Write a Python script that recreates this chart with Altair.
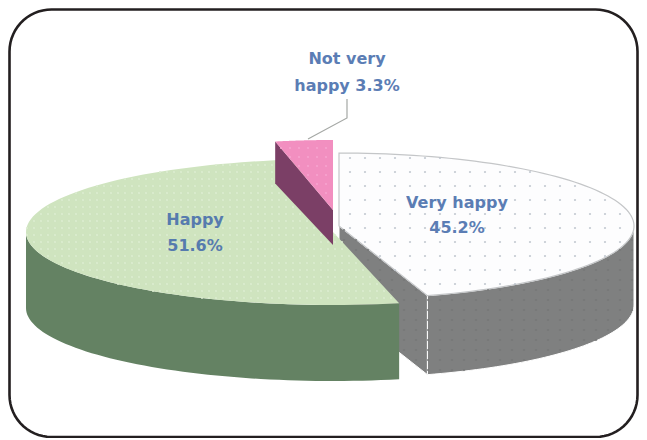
import math
import altair as alt
import numpy as np

# Values
categories = ["Very happy", "Happy", "Not very happy"]
shares = [45.2, 51.6, 3.3]
label_line1 = ["Very happy", "Happy", "Not very"]
label_line2 = ["45.2%", "51.6%", "happy 3.3%"]

# Drawing style and geometry of the exploded, tilted pie (page pixels)
top_colors = ["#fdfdfe", "#cfe4bf", "#f28fc0"]
side_colors = ["#7f8080", "#648263", "#7b3f66"]
centers = [(339, 226), (333, 232), (333, 210)]
radii = [(295, 73), (307, 73), (281, 70)]
depths = [79, 76, 38]
rotations = [0.0, 5.0, 0.0]
label_x = [457, 195, 347]
label_y = [[203, 228], [220, 246], [59, 86]]
TEXT = "#4a70ad"

total = sum(shares)
bounds = np.cumsum([0] + [s / total * 360 for s in shares])


def pt(i, a, dz=0):
    cx, cy = centers[i]
    rx, ry = radii[i]
    t = math.radians(a)
    return [cx + rx * math.sin(t), cy - ry * math.cos(t) + dz]


def poly(points, name, fill, stroke=None, sw=0):
    ring = [list(p) for p in points] + [list(points[0])]
    return {
        "type": "Feature",
        "geometry": {"type": "Polygon", "coordinates": [ring]},
        "properties": {"name": name, "fill": fill, "stroke": stroke or fill, "sw": sw},
    }


def arc(i, a0, a1, n=90):
    return [pt(i, a) for a in np.linspace(a0, a1, n)]


def sector(i):
    a0, a1 = bounds[i] + rotations[i], bounds[i + 1] + rotations[i]
    return [list(centers[i])] + arc(i, a0, a1)


def round_rect(x0, y0, x1, y1, r):
    pts = []
    for cx, cy, s in [(x1 - r, y0 + r, 0), (x1 - r, y1 - r, 90), (x0 + r, y1 - r, 180), (x0 + r, y0 + r, 270)]:
        for a in np.linspace(s, s + 90, 16):
            t = math.radians(a)
            pts.append([cx + r * math.sin(t), cy - r * math.cos(t)])
    return pts


def inside(p, ring):
    x, y = p
    hit = False
    for (x1, y1), (x2, y2) in zip(ring, ring[1:]):
        if (y1 > y) != (y2 > y) and x < x1 + (y - y1) * (x2 - x1) / (y2 - y1):
            hit = not hit
    return hit


features = []
a1 = bounds[1]
c = list(centers[0])
e = pt(0, a1)
d = depths[0]
white_face = poly([c, e, [e[0], e[1] + d], [c[0], c[1] + d]], "white face", side_colors[0], "#ffffff", 1)
wall = [pt(0, a) for a in np.linspace(90, a1, 50)] + [pt(0, a, d) for a in np.linspace(a1, 90, 50)]
white_wall = poly(wall, "white wall", side_colors[0], "#ffffff", 1)
white_top = poly(sector(0), "white top", top_colors[0], "#c4c6c8", 1.2)
r0 = bounds[1] + rotations[1]
d = depths[1]
wall = [pt(1, a) for a in np.linspace(r0, 270, 60)] + [pt(1, a, d) for a in np.linspace(270, r0, 60)]
green_wall = poly(wall, "green wall", side_colors[1])
green_top = poly(sector(1), "green top", top_colors[1])
c = list(centers[2])
e = pt(2, bounds[2])
d = depths[2]
pink_face = poly([e, [e[0], e[1] + d + 4], [c[0], c[1] + d - 3], c], "pink face", side_colors[2])
pink_top = poly(sector(2), "pink top", top_colors[2])
features = [white_face, white_wall, white_top, green_wall, green_top, pink_face, pink_top]

frame = poly(round_rect(9.5, 9.5, 637.5, 437, 42), "frame", "#ffffff", "#231f20", 2.6)


def make_layer(feats):
    return (
        alt.Chart(alt.Data(values=feats, format=alt.DataFormat(type="json")))
        .mark_geoshape()
        .encode(
            fill=alt.Fill("properties.fill:N", scale=None),
            stroke=alt.Stroke("properties.stroke:N", scale=None),
            strokeWidth=alt.StrokeWidth("properties.sw:Q", scale=None),
            order=alt.Order("index:Q"),
        )
    )


def ring(f):
    return f["geometry"]["coordinates"][0]


# Print-screen dots of the slice fills
def texture(target, covers, dx, dy, color, size):
    out = []
    for yy in np.arange(130, 400, dy):
        for xx in np.arange(20, 640, dx):
            p = (float(xx), float(yy))
            if inside(p, ring(target)) and not any(inside(p, ring(f)) for f in covers):
                out.append({"lon": p[0], "lat": p[1], "c": color, "s": size})
    return out


later = [green_wall, green_top, pink_face, pink_top]
dots = (
    texture(white_top, later, 15.0, 14.0, "#bcc3cc", 5)
    + texture(white_wall, later, 12.0, 10.0, "#757777", 5)
    + texture(white_face, later + [white_top, white_wall], 12.0, 10.0, "#757777", 5)
    + texture(green_top, [pink_face, pink_top], 7.0, 7.0, "#dcecd0", 5)
    + texture(pink_top, [], 9.0, 9.0, "#f6a5cf", 5)
)

dot_layer = (
    alt.Chart(alt.Data(values=dots))
    .mark_circle(opacity=0.9)
    .encode(
        longitude="lon:Q",
        latitude="lat:Q",
        color=alt.Color("c:N", scale=None),
        size=alt.Size("s:Q", scale=None),
    )
)

leader_lon = [347, 347, 308]
leader_lat = [99, 118, 139]
leader = (
    alt.Chart(alt.Data(values=[{"lon": a, "lat": b, "k": i} for i, (a, b) in enumerate(zip(leader_lon, leader_lat))]))
    .mark_line(color="#a5a8a5", strokeWidth=1.2)
    .encode(longitude="lon:Q", latitude="lat:Q", order="k:Q")
)

rows = []
for i in range(3):
    rows.append({"lon": label_x[i], "lat": label_y[i][0], "t": label_line1[i]})
    rows.append({"lon": label_x[i], "lat": label_y[i][1], "t": label_line2[i]})
labels = (
    alt.Chart(alt.Data(values=rows))
    .mark_text(font="DejaVu Sans", fontWeight="bold", fontSize=16, color=TEXT, align="center", baseline="middle", opacity=0.9)
    .encode(longitude="lon:Q", latitude="lat:Q", text="t:N")
)

chart = (
    alt.layer(make_layer([frame]), make_layer(features), dot_layer, leader, labels)
    .project(type="identity", scale=1, translate=[-8, -8])
    .properties(width=631, height=430, padding=0, autosize=alt.AutoSizeParams(type="none"), background="#ffffff")
    .configure_view(stroke=None)
)

chart.save("out.html", embed_options={"renderer": "svg", "actions": False})
